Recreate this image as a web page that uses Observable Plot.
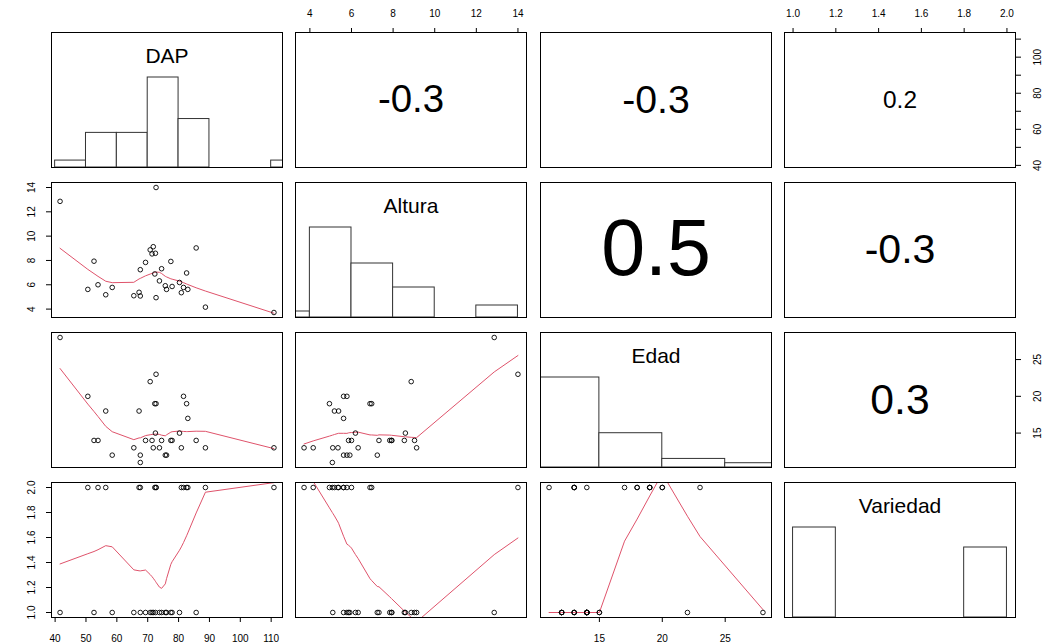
<!DOCTYPE html>
<html>
<head>
<meta charset="utf-8">
<script src="https://cdn.jsdelivr.net/npm/d3@7"></script>
<script src="https://cdn.jsdelivr.net/npm/@observablehq/plot@0.6"></script>
<style>
  body { margin: 0; background: #fff; }
  #chart { position: relative; width: 1043px; height: 644px; overflow: hidden;
           font-family: "Liberation Sans", Arial, Helvetica, sans-serif; }
  #chart svg { position: absolute; overflow: visible; background: none; }
</style>
</head>
<body>
<div id="chart"></div>
<script>
// Tree measurements, one entry per tree
const dap      = [41.6, 72.7, 50.6, 52.6, 53.9, 56.4, 58.5, 65.5, 67.2, 67.6, 67.6, 69.3, 70.8, 71.8, 71.4, 72.5,
                  72.3, 72.7, 73.8, 74.5, 75.7, 76.1, 77.5, 77.9, 80.3, 80.9, 81.6, 82.6, 83.0, 85.7, 88.7, 110.9];
const altura   = [12.86, 14.0, 5.62, 7.94, 6.0, 5.18, 5.78, 5.10, 5.38, 5.08, 7.24, 7.84, 8.87, 9.13, 8.54, 8.59,
                  6.89, 4.94, 6.32, 7.32, 5.92, 5.62, 7.92, 5.86, 6.19, 5.35, 5.78, 6.97, 5.62, 9.03, 4.16, 3.72];
const edad     = [28, 23, 20, 14, 14, 18, 12, 13, 18, 11, 12, 14, 22, 13, 14, 15,
                  19, 19, 13, 14, 12, 12, 14, 14, 15, 13, 20, 19, 17, 14, 13, 13];
const variedad = [1, 2, 2, 1, 2, 2, 1, 1, 2, 2, 1, 1, 1, 1, 1, 1,
                  2, 2, 1, 1, 1, 1, 1, 1, 1, 2, 2, 2, 2, 1, 2, 2];

const varNames = ["DAP", "Altura", "Edad", "Variedad"];

// Histogram breaks (right-closed bins)
const dapBreaks      = [40, 50, 60, 70, 80, 90, 100, 110, 120];
const alturaBreaks   = [2, 4, 6, 8, 10, 12, 14];
const edadBreaks     = [10, 15, 20, 25, 30];
const variedadBreaks = [1.0, 1.2, 1.4, 1.6, 1.8, 2.0];

// Axis ticks
const dapTicks       = [40, 50, 60, 70, 80, 90, 100, 110];
const dapSideLabels  = [40, 60, 80, 100];
const alturaTicks    = [4, 6, 8, 10, 12, 14];
const edadTicks      = [15, 20, 25];
const variedadTicks  = [1.0, 1.2, 1.4, 1.6, 1.8, 2.0];

const FONT = '"Liberation Sans", Arial, Helvetica, sans-serif';
const SMOOTH = "#DF536B";
const PW = 231, PH = 135, M = 40;
const X0 = 51, DX = 244.33, Y0 = 32, DY = 150;

const vars   = [dap, altura, edad, variedad];
const breaks = [dapBreaks, alturaBreaks, edadBreaks, variedadBreaks];
const ticks  = [dapTicks, alturaTicks, edadTicks, variedadTicks];
const fmts   = [String, String, String, d => d.toFixed(1)];
const sideLabels = [dapSideLabels, alturaTicks, edadTicks, variedadTicks];
const n = dap.length;

// Data range widened by 4% on each side
const padded = v => { const [a, b] = d3.extent(v); const e = 0.04 * (b - a); return [a - e, b + e]; };

function pearson(a, b) {
  const ma = d3.mean(a), mb = d3.mean(b);
  let sab = 0, saa = 0, sbb = 0;
  for (let k = 0; k < a.length; k++) {
    sab += (a[k] - ma) * (b[k] - mb); saa += (a[k] - ma) ** 2; sbb += (b[k] - mb) ** 2;
  }
  return sab / Math.sqrt(saa * sbb);
}

// Histogram counts with right-closed bins (lowest break included), scaled to the tallest bar
function histBins(values, br) {
  const counts = br.slice(0, -1).map((b0, k) =>
    values.filter(v => (v > b0 || (k === 0 && v === b0)) && v <= br[k + 1]).length);
  const mx = d3.max(counts);
  return counts.map((c, k) => ({x1: br[k], x2: br[k + 1], h: c / mx}));
}

// Port of the classic lowess smoother (f = 2/3, 3 robustness iterations)
function lowess(xIn, yIn, f = 2 / 3, iter = 3) {
  const N = xIn.length;
  const idx = d3.range(N).sort((a, b) => xIn[a] - xIn[b] || a - b);
  const x = idx.map(i => xIn[i]), y = idx.map(i => yIn[i]);
  const range = x[N - 1] - x[0];
  const delta = 0.01 * range;
  const ys = new Array(N).fill(0), rw = new Array(N).fill(1);
  const res = new Array(N).fill(0), w = new Array(N).fill(0);
  const ns = Math.max(2, Math.min(N, Math.floor(f * N + 1e-7)));

  function lowest(xs, nleft, nright, userw) {
    const h = Math.max(xs - x[nleft], x[nright] - xs);
    const h9 = 0.999 * h, h1 = 0.001 * h;
    let a = 0, j = nleft;
    while (j < N) {
      w[j] = 0;
      const r = Math.abs(x[j] - xs);
      if (r <= h9) {
        w[j] = r <= h1 ? 1 : Math.pow(1 - Math.pow(r / h, 3), 3);
        if (userw) w[j] *= rw[j];
        a += w[j];
      } else if (x[j] > xs) break;
      j++;
    }
    const nrt = j - 1;
    if (a <= 0) return null;
    for (j = nleft; j <= nrt; j++) w[j] /= a;
    if (h > 0) {
      a = 0;
      for (j = nleft; j <= nrt; j++) a += w[j] * x[j];
      let b = xs - a, c = 0;
      for (j = nleft; j <= nrt; j++) c += w[j] * (x[j] - a) ** 2;
      if (Math.sqrt(c) > 0.001 * range) {
        b /= c;
        for (j = nleft; j <= nrt; j++) w[j] *= b * (x[j] - a) + 1;
      }
    }
    let s = 0;
    for (j = nleft; j <= nrt; j++) s += w[j] * y[j];
    return s;
  }

  for (let it = 1; it <= iter + 1; it++) {
    let nleft = 0, nright = ns - 1, last = -1, i = 0;
    for (;;) {
      if (nright < N - 1) {
        const d1 = x[i] - x[nleft], d2 = x[nright + 1] - x[i];
        if (d1 > d2) { nleft++; nright++; continue; }
      }
      const v = lowest(x[i], nleft, nright, it > 1);
      ys[i] = v === null ? y[i] : v;
      if (last < i - 1) {
        const denom = x[i] - x[last];
        for (let j = last + 1; j < i; j++) {
          const alpha = (x[j] - x[last]) / denom;
          ys[j] = alpha * ys[i] + (1 - alpha) * ys[last];
        }
      }
      last = i;
      const cut = x[last] + delta;
      for (i = last + 1; i < N; i++) {
        if (x[i] > cut) break;
        if (x[i] === x[last]) { ys[i] = ys[last]; last = i; }
      }
      i = Math.max(last + 1, i - 1);
      if (last >= N - 1) break;
    }
    for (let k = 0; k < N; k++) res[k] = y[k] - ys[k];
    if (it > iter) break;
    const sc = d3.sum(res, Math.abs) / N;
    const sorted = res.map(Math.abs).sort((a, b) => a - b);
    const m1 = Math.floor(N / 2);
    const cmad = N % 2 === 0 ? 3 * (sorted[m1] + sorted[N - m1 - 1]) : 6 * sorted[m1];
    if (cmad < 1e-7 * sc) break;
    const c9 = 0.999 * cmad, c1 = 0.001 * cmad;
    for (let k = 0; k < N; k++) {
      const r = Math.abs(res[k]);
      rw[k] = r <= c1 ? 1 : r <= c9 ? (1 - (r / cmad) ** 2) ** 2 : 0;
    }
  }
  return x.map((xv, k) => ({x: xv, y: ys[k]}));
}

const ctx = document.createElement("canvas").getContext("2d");
ctx.font = `100px ${FONT}`;
const emWidth = s => ctx.measureText(s).width / 100;

function axisMarks(i, j) {
  const out = [];
  const base = {tickSize: 5, fontSize: 10, fontFamily: FONT, label: null};
  if (i === 0 && j % 2 === 1)
    out.push(Plot.axisX({...base, anchor: "top", ticks: ticks[j], tickFormat: fmts[j], tickPadding: 11}));
  if (i === 3 && j % 2 === 0)
    out.push(Plot.axisX({...base, anchor: "bottom", ticks: ticks[j], tickFormat: fmts[j], tickPadding: 12}));
  if (j === 0 && i % 2 === 1) {
    out.push(Plot.axisY({...base, anchor: "left", ticks: ticks[i], tickFormat: () => ""}));
    out.push(Plot.text(sideLabels[i], {y: d => d, text: fmts[i], frameAnchor: "left", dx: -19.5,
      rotate: -90, textAnchor: "middle", lineAnchor: "middle", fontSize: 10, fontFamily: FONT, fill: "black"}));
  }
  if (j === 3 && i % 2 === 0) {
    out.push(Plot.axisY({...base, anchor: "right", ticks: ticks[i], tickFormat: () => ""}));
    out.push(Plot.text(sideLabels[i], {y: d => d, text: fmts[i], frameAnchor: "right", dx: 22.5,
      rotate: -90, textAnchor: "middle", lineAnchor: "middle", fontSize: 10, fontFamily: FONT, fill: "black"}));
  }
  return out;
}

const chart = document.getElementById("chart");

for (let i = 0; i < 4; i++) {
  for (let j = 0; j < 4; j++) {
    const marks = [];
    let yDomain = padded(vars[i]);
    if (i === j) {
      // histogram on the diagonal, bar heights relative to the tallest bar
      yDomain = [0, 1.5];
      marks.push(Plot.rect(histBins(vars[i], breaks[i]),
        {x1: "x1", x2: "x2", y1: 0, y2: "h", fill: "white", stroke: "#333", strokeWidth: 1, clip: true}));
      marks.push(Plot.text([varNames[i]],
        {frameAnchor: "top", dy: 24, lineAnchor: "middle", fontSize: 21, fontFamily: FONT, fill: "black"}));
    } else if (i < j) {
      // correlation coefficient, sized by its magnitude
      const r = pearson(vars[j], vars[i]);
      const txt = r.toFixed(1);
      const fs = 0.9 * PW * Math.abs(r) / emWidth(txt);
      marks.push(Plot.text([txt],
        {frameAnchor: "middle", lineAnchor: "middle", fontSize: fs, fontFamily: FONT, fill: "black"}));
    } else {
      // scatter with lowess smooth
      const idx = d3.range(n);
      marks.push(Plot.line(lowess(vars[j], vars[i]),
        {x: "x", y: "y", stroke: SMOOTH, strokeWidth: 1, clip: true}));
      marks.push(Plot.dot(idx,
        {x: k => vars[j][k], y: k => vars[i][k], r: 2.3, stroke: "black", strokeWidth: 0.9, fill: "none"}));
    }
    marks.push(Plot.frame({stroke: "black", strokeWidth: 1}));
    marks.push(...axisMarks(i, j));

    const svg = Plot.plot({
      width: PW + 2 * M, height: PH + 2 * M, margin: M,
      style: {background: "transparent", fontFamily: FONT, color: "black", overflow: "visible"},
      x: {domain: padded(vars[j]), axis: null},
      y: {domain: yDomain, axis: null},
      marks
    });
    svg.style.left = (X0 + j * DX - M) + "px";
    svg.style.top = (Y0 + i * DY - M) + "px";
    chart.appendChild(svg);
  }
}
</script>
</body>
</html>
